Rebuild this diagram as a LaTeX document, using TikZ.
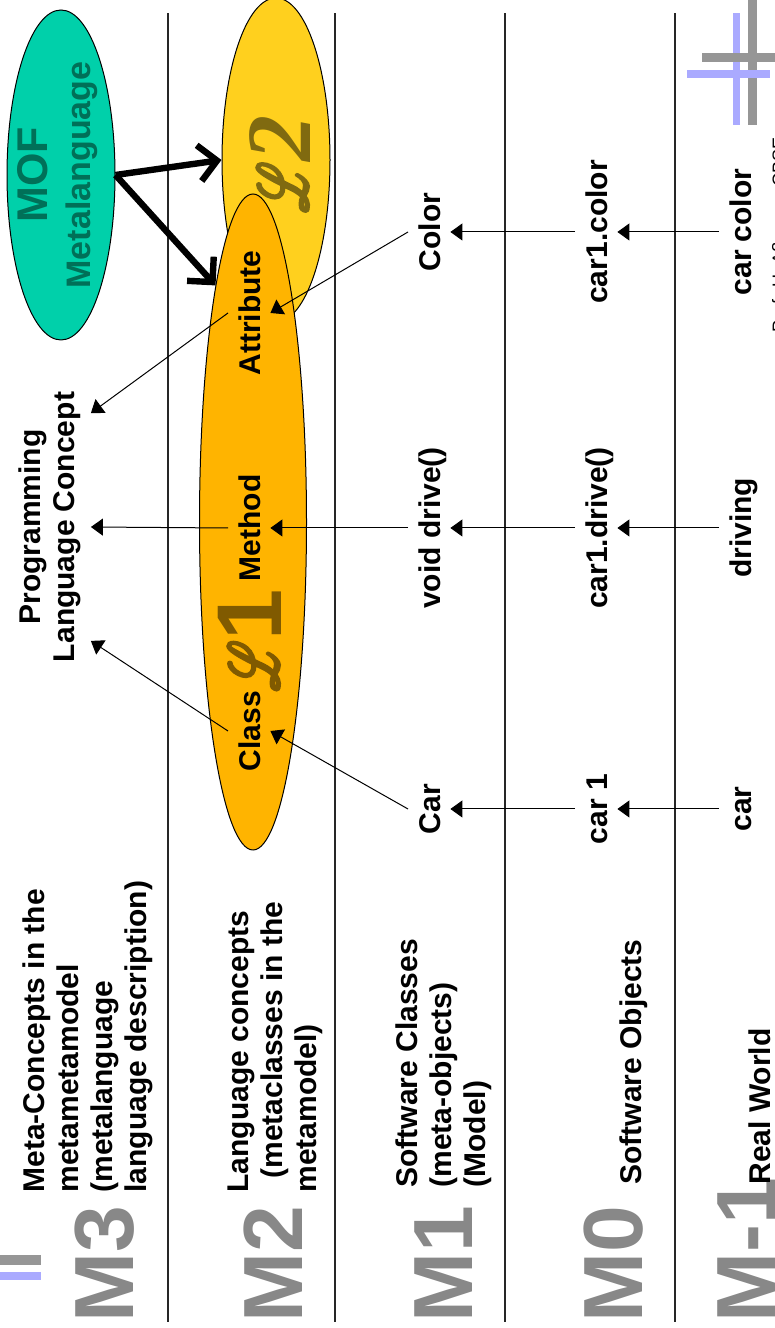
\documentclass[tikz,border=0pt]{standalone}
\usepackage{fontspec}
\setmainfont{Liberation Sans}
\newfontfamily\serifit{Liberation Serif}
\usepackage{mathrsfs}
\usetikzlibrary{shapes.geometric,arrows.meta}
\definecolor{mofgreen}{RGB}{0,208,170}
\definecolor{mofdark}{RGB}{0,112,88}
\definecolor{langtwo}{RGB}{255,208,30}
\definecolor{langone}{RGB}{255,180,0}
\definecolor{ltwotext}{RGB}{128,106,16}
\definecolor{lonetext}{RGB}{128,90,0}
\definecolor{levelgray}{RGB}{136,136,136}
\definecolor{logogray}{RGB}{150,150,150}
\definecolor{logoblue}{RGB}{170,170,255}
\def\bodyfont{\fontsize{15}{17}\selectfont\bfseries}
\def\scriptL{\raisebox{1.5pt}{\scalebox{0.95}[1.4]{\special{pdf:literal direct 2 Tr 1.3 w}$\mathscr{L}$\special{pdf:literal direct 0 Tr}}}}
\tikzset{
concept/.style={font=\bodyfont, text height=10.8pt, text depth=0pt, inner sep=5pt, anchor=base},
levelname/.style={font=\fontsize{42}{42}\selectfont\bfseries, text=levelgray, inner sep=0pt, anchor=base west},
levelinfo/.style={font=\bodyfont, align=left, inner sep=0pt},
instof/.style={-{Triangle[length=6pt,width=8.5pt]}, line width=0.5pt},
metaof/.style={-{Straight Barb[length=9pt,width=18pt]}, line width=3.2pt},
blob/.style={ellipse, draw, line width=0.5pt, inner sep=0pt},
bigL/.style={font=\fontsize{46}{46}\selectfont, inner sep=0pt}
}
\begin{document}
\begin{tikzpicture}[x=0.5pt,y=0.5pt]
\begin{scope}[rotate=90,transform shape]
\useasboundingbox (0,0) rectangle (1328,-775);
\foreach \v in {168,335,505,675}
  \draw[line width=0.6pt, black!85] (6,-\v) -- (1315,-\v);
\fill[logogray] (63,10) rectangle (73,-41);
\fill[logoblue] (48,10) rectangle (56,-41);
\fill[logoblue] (1203,-733) rectangle (1315,-740);
\fill[logogray] (1266,-702) rectangle (1275,-790);
\fill[logogray] (1203,-748) rectangle (1340,-757);
\fill[logoblue] (1250,-687) rectangle (1258,-770);
\node[levelname] (mthree) at (5,-133) {M3};
\node[levelname] (mtwo) at (5,-302) {M2};
\node[levelname] (mone) at (5,-472) {M1};
\node[levelname] (mzero) at (5,-642) {M0};
\node[levelname] (mminus) at (5,-775) {M-1};
\node[levelinfo, anchor=north west] (infothree) at (135,-22) {Meta-Concepts in the\\metametamodel\\(metalanguage\\language description)};
\node[levelinfo, anchor=north west] (infotwo) at (135,-227) {Language concepts\\\hspace*{7pt}(metaclasses in the\\metamodel)};
\node[levelinfo, anchor=north west] (infoone) at (140,-395) {Software Classes\\(meta-objects)\\(Model)};
\node[levelinfo, anchor=base west] (infozero) at (143,-641) {Software Objects};
\node[levelinfo, anchor=base west] (infominus) at (143,-770) {Real World};
\node[blob, fill=langtwo, minimum width=162pt, minimum height=54pt] (ltwo) at (1168,-276) {};
\node[blob, fill=langone, minimum width=328pt, minimum height=53.5pt] (lone) at (806,-253) {};
\node[blob, fill=mofgreen, minimum width=165pt, minimum height=54pt] (mof) at (1153,-61) {};
\node[font=\fontsize{21.5}{21.5}\selectfont\bfseries, text=mofdark, inner sep=0pt, anchor=base] (moftext) at (1153,-48) {MOF};
\node[font=\fontsize{17}{17}\selectfont\bfseries, text=mofdark, inner sep=0pt, anchor=base] (metatext) at (1153,-91) {Metalanguage};
\node[bigL, text=ltwotext, anchor=base] (ltwotext) at (1164,-310) {\scriptL{\serifit\bfseries\itshape 2}};
\node[bigL, text=lonetext, anchor=base] (lonetext) at (688,-281) {\scriptL{\bfseries 1}};
\node[concept] (attribute) at (1015,-260) {Attribute};
\node[concept] (method) at (800,-260) {Method};
\node[concept] (class) at (597,-260) {Class};
\node[font=\bodyfont, align=center, inner sep=5pt, anchor=north] (plc) at (801,-8) {Programming\\Language Concept};
\node[concept] (color) at (1096,-440) {Color};
\node[concept] (voiddrive) at (800,-440) {void drive()};
\node[concept] (car) at (519,-440) {Car};
\node[concept] (caronecolor) at (1096,-607) {car1.color};
\node[concept] (caronedrive) at (800,-607) {car1.drive()};
\node[concept] (carone) at (519,-607) {car 1};
\node[concept] (carcolor) at (1096,-751) {car color};
\node[concept] (driving) at (800,-751) {driving};
\node[concept] (realcar) at (519,-751) {car};
\node[font=\fontsize{9}{9}\selectfont, inner sep=0pt, anchor=base west] (footer) at (995,-785) {Prof. U. Aßmann, CBSE};
\node[font=\fontsize{12}{12}\selectfont, inner sep=0pt, anchor=base west] (pagenum) at (1290,-792) {13};
\draw[metaof] (mof.south) -- (ltwo.north);
\draw[metaof] (mof.south) -- (lone.9);
\draw[instof] (method.north) -- (plc.south);
\draw[instof] (class.north) -- (plc.200);
\draw[instof] (attribute.north) -- (plc.340);
\draw[instof] (voiddrive.north) -- (method.south);
\draw[instof] (car.north) -- (class.south);
\draw[instof] (color.north) -- (attribute.south);
\draw[instof] (caronecolor.north) -- (color.south);
\draw[instof] (caronedrive.north) -- (voiddrive.south);
\draw[instof] (carone.north) -- (car.south);
\draw[instof] (carcolor.north) -- (caronecolor.south);
\draw[instof] (driving.north) -- (caronedrive.south);
\draw[instof] (realcar.north) -- (carone.south);
\end{scope}
\end{tikzpicture}
\end{document}
